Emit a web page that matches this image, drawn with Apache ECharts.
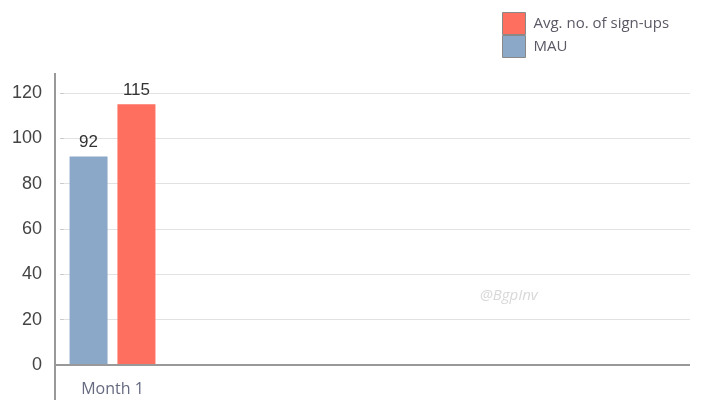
<!DOCTYPE html>
<html>
<head>
<meta charset="utf-8">
<script src="https://cdn.jsdelivr.net/npm/echarts@6/dist/echarts.min.js"></script>
<style>
html,body{margin:0;padding:0;background:#fff;}
#main{width:705px;height:420px;}
</style>
</head>
<body>
<div id="main"></div>
<script>
var categories = ["Month 1", "", "", "", "", ""];
var mauValues = [92, null, null, null, null, null];
var signupValues = [115, null, null, null, null, null];
var seriesNames = ["MAU", "Avg. no. of sign-ups"];
var legendOrder = ["Avg. no. of sign-ups", "MAU"];

var chart = echarts.init(document.getElementById('main'), null, {renderer: 'canvas'});
var font = "'Open Sans', 'DejaVu Sans', sans-serif";
var numFont = "'Liberation Sans', Arial, sans-serif";
var option = {
  animation: false,
  backgroundColor: '#fff',
  grid: {left: 60, right: 15, top: 93, bottom: 55},
  legend: {
    orient: 'vertical',
    left: 497, top: 7,
    icon: 'rect',
    itemWidth: 23, itemHeight: 22, itemGap: 0,
    data: legendOrder,
    textStyle: {color: '#5a5a66', fontSize: 15, fontFamily: font, padding: [0,0,0,3]},
    itemStyle: {borderColor: '#888', borderWidth: 1}
  },
  xAxis: {
    type: 'category',
    data: categories,
    axisLine: {show: false},
    axisTick: {show: false},
    axisLabel: {color: '#666a80', fontSize: 16, fontFamily: font, margin: 16}
  },
  yAxis: {
    type: 'value', min: 0, max: 120, interval: 20,
    axisLine: {show: false},
    axisTick: {show: true, inside: true, length: 4, lineStyle: {color: '#ccc'}},
    axisLabel: {color: '#444', fontSize: 18, fontFamily: numFont, margin: 18},
    splitLine: {lineStyle: {color: '#e2e2e2', width: 1}}
  },
  series: [
    {
      name: seriesNames[0], type: 'bar', data: mauValues,
      barWidth: 38, barGap: '26%',
      itemStyle: {color: '#8ca8c9'},
      label: {show: true, position: 'top', color: '#333', fontSize: 17, fontFamily: numFont, distance: 6}
    },
    {
      name: seriesNames[1], type: 'bar', data: signupValues,
      barWidth: 38,
      itemStyle: {color: '#ff6f5f'},
      label: {show: true, position: 'top', color: '#333', fontSize: 17, fontFamily: numFont, distance: 6}
    }
  ]
};
chart.setOption(option);

var topPix = chart.convertToPixel({gridIndex: 0}, [0, 120]);
var zeroPix = chart.convertToPixel({gridIndex: 0}, [0, 0]);
var axisX = 55;
chart.setOption({
  graphic: [
    {type: 'line', z: 10, shape: {x1: axisX, y1: topPix[1] - 20, x2: axisX, y2: zeroPix[1] + 35},
     style: {stroke: '#999', lineWidth: 2}},
    {type: 'line', z: 10, shape: {x1: axisX, y1: zeroPix[1], x2: 690, y2: zeroPix[1]},
     style: {stroke: '#999', lineWidth: 2}},
    {type: 'text', left: 480, top: 288, z: 10,
     style: {text: '@BgpInv', fill: '#d8d8d8', fontSize: 15, fontStyle: 'italic', fontFamily: font}}
  ]
});
</script>
</body>
</html>
